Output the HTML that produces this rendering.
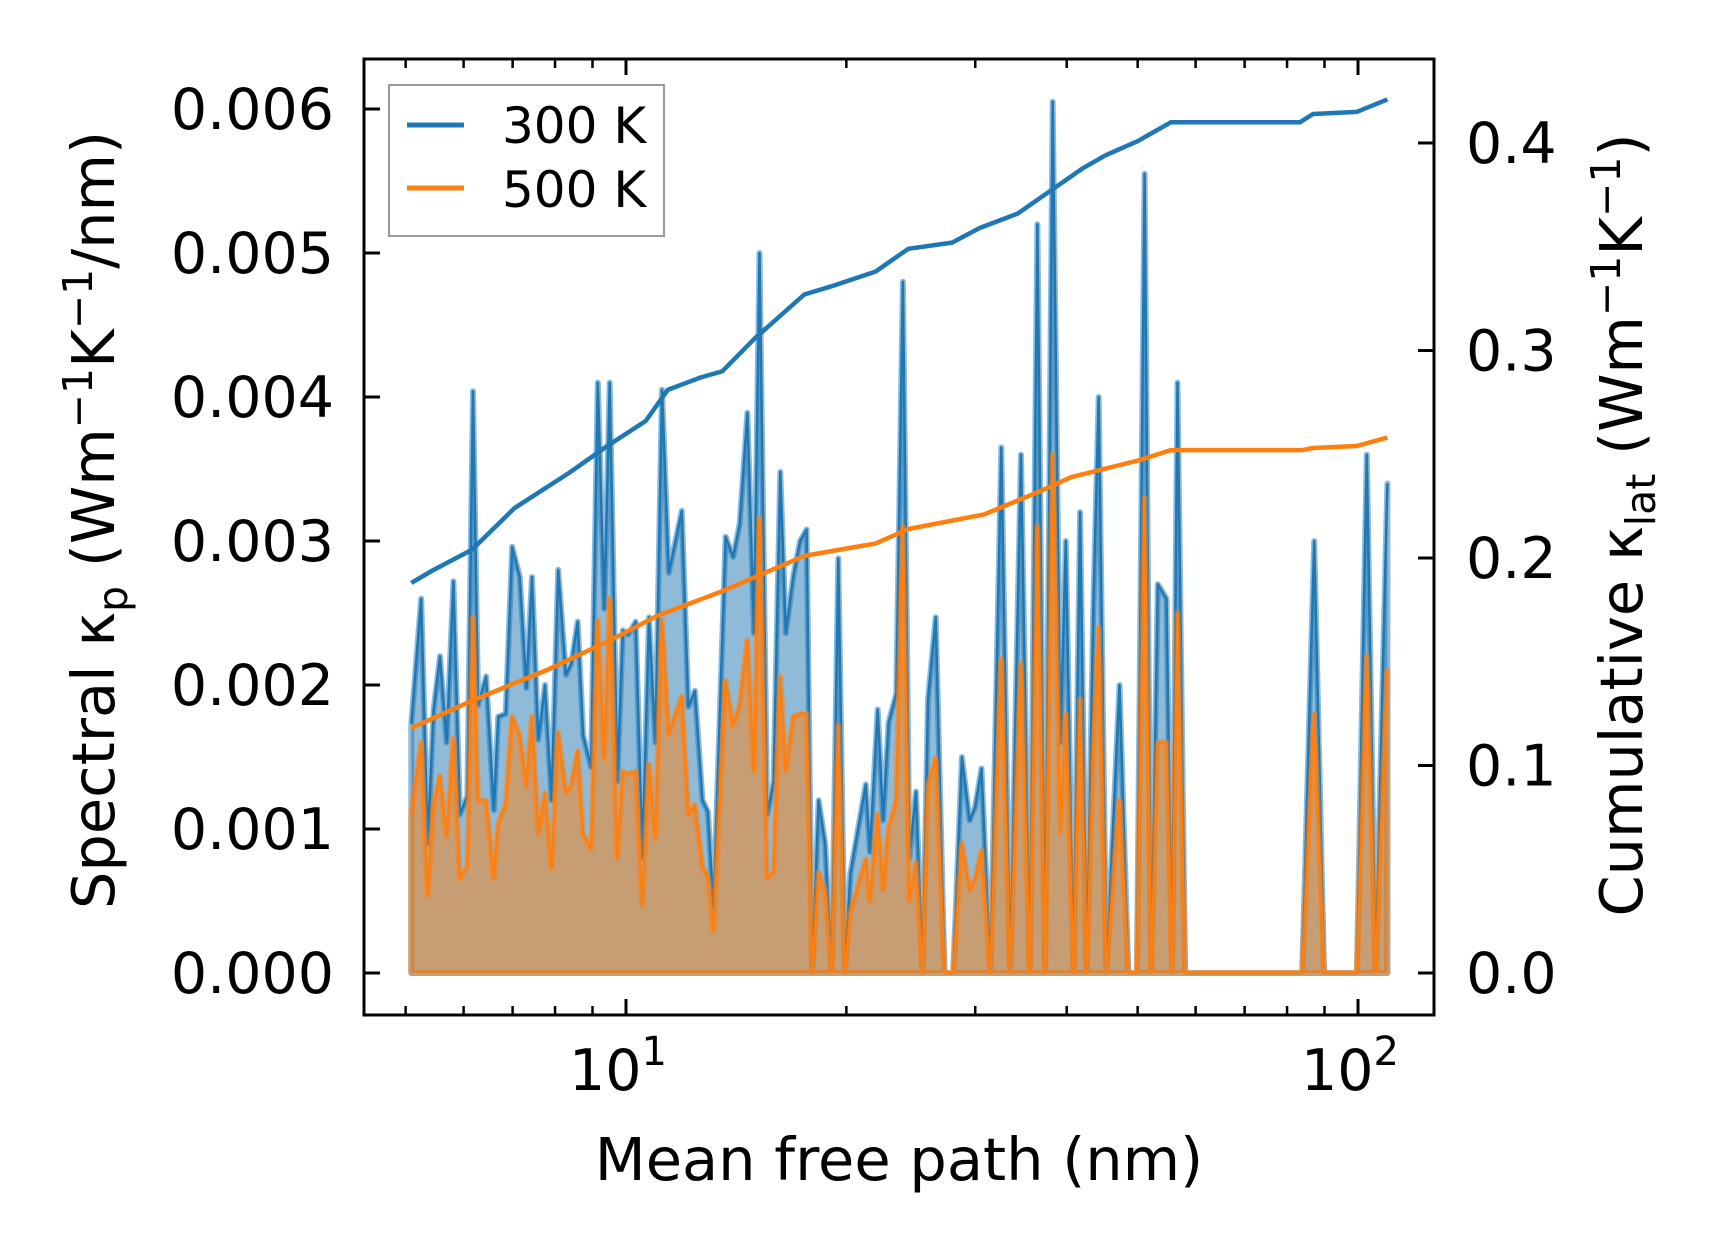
<!DOCTYPE html>
<html><head><meta charset="utf-8"><style>
html,body{margin:0;padding:0;background:#fff;}
svg{display:block;font-family:"DejaVu Sans","Liberation Sans",sans-serif;}
</style></head><body>
<svg id="chart" width="1716" height="1254" viewBox="0 0 1716 1254" xmlns="http://www.w3.org/2000/svg">
<rect width="1716" height="1254" fill="#fff"/>
<g id="marks"></g>
<g id="axes"></g>
<text x="899" y="1180" font-size="59" text-anchor="middle">Mean free path (nm)</text>
<text transform="translate(114,520) rotate(-90)" font-size="59" text-anchor="middle">Spectral κ<tspan font-size="41" dy="13">p</tspan><tspan dy="-13"> (Wm</tspan><tspan font-size="41" dy="-22">−1</tspan><tspan dy="22">K</tspan><tspan font-size="41" dy="-22">−1</tspan><tspan dy="22">/nm)</tspan></text>
<text transform="translate(1642,525) rotate(-90)" font-size="59" text-anchor="middle">Cumulative κ<tspan font-size="41" dy="13">lat</tspan><tspan dy="-13"> (Wm</tspan><tspan font-size="41" dy="-22">−1</tspan><tspan dy="22">K</tspan><tspan font-size="41" dy="-22">−1</tspan><tspan dy="22">)</tspan></text>
<g>
<rect x="389" y="85" width="275" height="151" fill="#fff" stroke="#999" stroke-width="2"/>
<line x1="407" y1="125" x2="464" y2="125" stroke="#1f77b4" stroke-width="5"/>
<text x="502" y="143" font-size="50">300 K</text>
<line x1="407" y1="188" x2="464" y2="188" stroke="#ff7f0e" stroke-width="5"/>
<text x="502" y="207" font-size="50">500 K</text>
</g>
</svg>
<script>
const mfp = [5.09,5.25,5.36,5.46,5.57,5.69,5.81,5.93,6.07,6.18,6.28,6.44,6.60,6.69,6.85,6.99,7.16,7.31,7.44,7.59,7.75,7.91,8.08,8.28,8.42,8.59,8.74,8.96,9.15,9.34,9.50,9.73,9.90,10.07,10.31,10.53,10.75,10.97,11.20,11.44,11.92,12.17,12.42,12.72,12.94,13.17,13.68,14.01,14.30,14.65,14.96,15.22,15.59,15.91,16.25,16.53,16.93,17.29,17.65,17.96,18.33,18.71,19.10,19.50,19.91,20.25,21.26,21.54,22.07,22.45,22.84,23.40,23.89,24.39,24.90,25.42,25.86,26.49,27.23,27.99,28.77,29.47,29.98,30.60,31.46,32.56,33.48,34.64,35.61,36.48,37.36,38.28,39.21,39.89,40.86,41.72,42.59,43.48,44.23,45.32,47.23,48.55,49.89,51.11,52.18,53.27,54.75,55.70,56.67,58.05,83.90,87.14,89.88,99.65,102.8,105.7,109.7];
const kp300 = [.00173,.0026,.0009,.00183,.0022,.0016,.00272,.0011,.00123,.00404,.00186,.00206,.00113,.00178,.0018,.00296,.00275,.00198,.00275,.00162,.0020,.0012,.0028,.00207,.00215,.00244,.00165,.00143,.0041,.00253,.0041,.00133,.00238,.00235,.00244,.0008,.00247,.0016,.00405,.00278,.00321,.00185,.00196,.0012,.00112,.00045,.00303,.00289,.00312,.00389,.00236,.0050,.0011,.00133,.00348,.00236,.00276,.0030,.00308,0,.0012,.0009,0,.00288,0,.00069,.00131,.00084,.00183,.00106,.00174,.00194,.0048,.0008,.00126,0,.0019,.00247,0,0,.0015,.00106,.00115,.00142,0,.00365,0,.0036,0,.0052,0,.00605,.0016,.0030,0,.0032,0,.0025,.0040,0,.0020,0,0,.00555,0,.0027,.0026,0,.0041,0,0,.0030,0,0,.0036,0,.0034];
const kp500 = [.0011,.0016,.00054,.00117,.00137,.00095,.00163,.00066,.00074,.00247,.0012,.0012,.00066,.00104,.00117,.00178,.00165,.0013,.00178,.00097,.00125,.00073,.00167,.00125,.0013,.00154,.00097,.00086,.00245,.00149,.0026,.0008,.0014,.00138,.0014,.00047,.00145,.00094,.00245,.00166,.00192,.0011,.00117,.00074,.00067,.00029,.00203,.00172,.00186,.00231,.0014,.00316,.00066,.0007,.00206,.0014,.00178,.0018,.0018,0,.0007,.00057,0,.00172,0,.00042,.00079,.0005,.0011,.00058,.001,.0012,.0031,.0005,.00077,0,.0013,.00149,0,0,.0009,.00058,.00065,.00085,0,.00218,0,.00215,0,.0031,0,.0036,.00098,.0018,0,.0019,0,.0015,.0024,0,.0012,0,0,.0033,0,.0016,.0016,0,.0025,0,0,.0018,0,0,.0022,0,.0021];
const cum300Mfp = [5.09,5.44,6.16,7.04,8.36,9.43,10.64,11.40,12.64,13.54,15.01,17.52,19.10,21.92,24.30,27.89,30.39,34.28,38.02,42.15,45.16,50.07,55.5,83.3,86.8,99.6,109.7];
const cum300 = [0.188,0.194,0.204,0.224,0.241,0.254,0.266,0.281,0.287,0.290,0.306,0.327,0.331,0.338,0.349,0.352,0.359,0.366,0.377,0.388,0.394,0.401,0.410,0.410,0.414,0.415,0.421];
const cum500Mfp = [5.09,6.14,7.80,9.60,11.01,13.54,17.52,21.92,24.30,30.86,36.7,40.6,50.07,55.5,83.9,86.8,99.6,109.7];
const cum500 = [0.118,0.131,0.146,0.161,0.172,0.184,0.201,0.207,0.214,0.221,0.232,0.239,0.247,0.252,0.252,0.253,0.254,0.258];
const yTicksLeft = [0,0.001,0.002,0.003,0.004,0.005,0.006];
const yTicksRight = [0,0.1,0.2,0.3,0.4];
const xMajor = [10,100];
const xMinor = [5,6,7,8,9,20,30,40,50,60,70,80,90];

const L=364,R=1434,T=59,B=1015;
const xl0=Math.log10(10),xpx0=626,decade=732;
const X=v=>xpx0+(Math.log10(v)-xl0)*decade;
const YL=v=>973-v*144000;
const YR=v=>973-v*2075;
const NS='http://www.w3.org/2000/svg';
const marks=document.getElementById('marks');
const axes=document.getElementById('axes');
function mk(tag,attrs,parent){const e=document.createElementNS(NS,tag);for(const k in attrs)e.setAttribute(k,attrs[k]);parent.appendChild(e);return e;}

function spectral(vals,color,name){
  let pts=mfp.map((m,i)=>X(m).toFixed(1)+','+YL(vals[i]).toFixed(1));
  let poly=X(mfp[0]).toFixed(1)+','+YL(0)+' '+pts.join(' ')+' '+X(mfp[mfp.length-1]).toFixed(1)+','+YL(0);
  const f=mk('polygon',{points:poly,fill:color,'fill-opacity':0.5,stroke:color,'stroke-opacity':0.5,'stroke-width':6,'stroke-linejoin':'round'},marks);
  
  
  const l=mk('polyline',{points:pts.join(' '),fill:'none',stroke:color,'stroke-width':2.5,'stroke-linejoin':'round'},marks);
  
  
}
spectral(kp300,'#1f77b4','spectral-300k');
spectral(kp500,'#ff7f0e','spectral-500k');
function cum(xs,vals,color,name){
  const pts=xs.map((m,i)=>X(m).toFixed(1)+','+YR(vals[i]).toFixed(1)).join(' ');
  const l=mk('polyline',{points:pts,fill:'none',stroke:color,'stroke-width':4.5,'stroke-linejoin':'round'},marks);
  
  
}
cum(cum300Mfp,cum300,'#1f77b4','cumulative-300k');
cum(cum500Mfp,cum500,'#ff7f0e','cumulative-500k');

const frame=mk('rect',{x:L,y:T,width:R-L,height:B-T,fill:'none',stroke:'#000','stroke-width':3},axes);


yTicksLeft.forEach(v=>{
  const y=YL(v);
  mk('line',{x1:L,y1:y,x2:L+16,y2:y,stroke:'#000','stroke-width':3},axes);
  const t=mk('text',{x:334,y:y+20,'font-size':57,'text-anchor':'end'},axes);
  t.textContent=v.toFixed(3);
  
  
});
yTicksRight.forEach(v=>{
  const y=YR(v);
  mk('line',{x1:R-16,y1:y,x2:R,y2:y,stroke:'#000','stroke-width':3},axes);
  const t=mk('text',{x:1466,y:y+20,'font-size':57,'text-anchor':'start'},axes);
  t.textContent=v.toFixed(1);
  
  
});
xMajor.forEach(v=>{
  const x=X(v);
  mk('line',{x1:x,y1:B,x2:x,y2:B-16,stroke:'#000','stroke-width':3},axes);
  mk('line',{x1:x,y1:T,x2:x,y2:T+16,stroke:'#000','stroke-width':3},axes);
  const t=mk('text',{x:x-8,y:1090,'font-size':57,'text-anchor':'middle'},axes);
  t.textContent='10';
  const s=mk('tspan',{'font-size':40,dy:-25},t);
  s.textContent=String(Math.round(Math.log10(v)));
  
  
});
xMinor.forEach(v=>{
  const x=X(v);
  if(x<L||x>R)return;
  mk('line',{x1:x,y1:B,x2:x,y2:B-9,stroke:'#000','stroke-width':2.5},axes);
  mk('line',{x1:x,y1:T,x2:x,y2:T+9,stroke:'#000','stroke-width':2.5},axes);
});
</script>
</body></html>
